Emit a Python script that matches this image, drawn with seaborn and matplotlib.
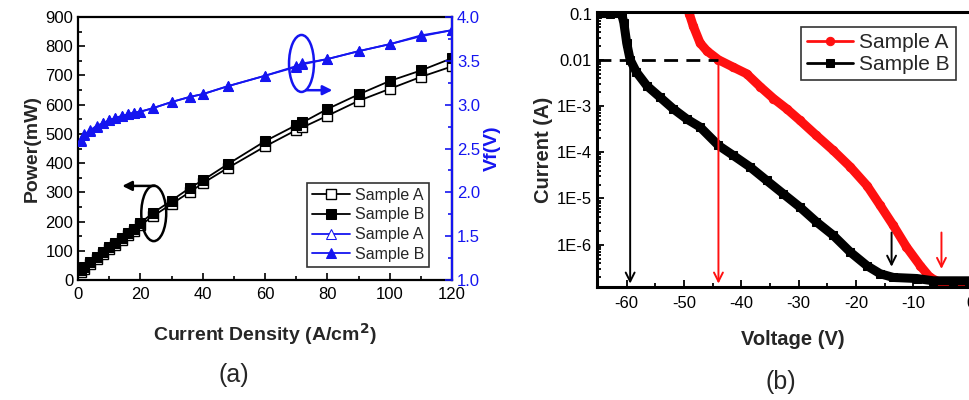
import numpy as np
import matplotlib
matplotlib.use("Agg")
import matplotlib.pyplot as plt
from matplotlib.patches import Ellipse
from matplotlib.ticker import FixedLocator, MultipleLocator, FuncFormatter, LogLocator, NullFormatter
import seaborn as sns

# ---- panel (a): power / forward voltage vs current density ----
j_pts = [1, 2, 4, 6, 8, 10, 12, 14, 16, 18, 20, 24, 30, 36, 40, 48, 60, 70, 72, 80, 90, 100, 110, 120]
power_a = [28, 38, 55, 72, 89, 105, 121, 138, 153, 169, 187, 218, 260, 302, 331, 383, 457, 513, 522, 562, 613, 654, 695, 731]
power_b = [35, 45, 62, 78, 95, 112, 128, 145, 160, 176, 195, 229, 272, 316, 341, 396, 475, 530, 539, 585, 635, 681, 717, 759]
vf_a = [2.59, 2.65, 2.70, 2.75, 2.79, 2.82, 2.85, 2.87, 2.89, 2.91, 2.92, 2.96, 3.03, 3.09, 3.12, 3.21, 3.33, 3.43, 3.46, 3.52, 3.61, 3.69, 3.78, 3.85]
vf_b = [2.60, 2.66, 2.71, 2.76, 2.79, 2.82, 2.85, 2.87, 2.89, 2.91, 2.92, 2.96, 3.03, 3.09, 3.12, 3.21, 3.33, 3.44, 3.47, 3.52, 3.61, 3.69, 3.79, 3.85]

# ---- panel (b): reverse I-V ----
volt_a = [-49.1, -48.4, -47.2, -46.0, -44.0, -41.4, -39.1, -36.7, -34.4, -32.1, -29.8, -26.9, -24.0,
          -21.0, -18.1, -15.8, -13.5, -11.2, -8.8, -7.1, -5.3, -3.0, -0.3, 2.0]
curr_a = [1e-1, 5.4e-2, 2.3e-2, 1.55e-2, 1.0e-2, 6.9e-3, 5.0e-3, 2.6e-3, 1.45e-3, 8.7e-4, 4.9e-4, 2.3e-4, 1.1e-4,
          4.8e-5, 1.9e-5, 7.1e-6, 2.6e-6, 8.9e-7, 3.5e-7, 1.95e-7, 1.5e-7, 1.5e-7, 1.5e-7, 1.5e-7]
volt_b = [-65.2, -63.0, -60.9, -60.5, -60.0, -59.4, -58.3, -56.5, -54.2, -51.9, -49.5, -47.2, -44.0, -41.4,
          -38.5, -35.6, -32.7, -29.8, -26.9, -24.0, -21.0, -18.1, -15.8, -13.5, -9.4, -6.5, -3.0, -0.3, 2.0]
curr_b = [1e-1, 1e-1, 1e-1, 6.3e-2, 2.3e-2, 1.0e-2, 5.4e-3, 2.75e-3, 1.55e-3, 8.7e-4, 5.2e-4, 3.5e-4, 1.4e-4, 8.5e-5,
          4.8e-5, 2.45e-5, 1.26e-5, 6.5e-6, 3.1e-6, 1.6e-6, 6.9e-7, 3.5e-7, 2.35e-7, 1.95e-7, 1.85e-7, 1.65e-7, 1.65e-7, 1.65e-7, 1.65e-7]
ilog_ticks = [1e-6, 1e-5, 1e-4, 1e-3, 1e-2, 1e-1]
ilog_labels = ["1E-6", "1E-5", "1E-4", "1E-3", "0.01", "0.1"]
i_ref = 1e-2
v_ref_b, v_ref_a = -59.4, -44.0
v_knee_b, v_knee_a = -13.8, -5.1

sns.set_theme(style="ticks")
plt.rcParams["font.family"] = ["Liberation Sans", "DejaVu Sans"]
plt.rcParams["xtick.direction"] = "in"
plt.rcParams["ytick.direction"] = "in"

BLUE = "#1515f0"
RED = "#ff1010"

fig = plt.figure(figsize=(9.69, 4.0), dpi=100)

# ================= (a) =================
ax = fig.add_axes([0.0805, 0.30, 0.386, 0.6575])
ax2 = ax.twinx()

sns.lineplot(x=j_pts, y=power_a, ax=ax, color="black", lw=1.3, marker="s", markersize=6.5,
             markerfacecolor="white", markeredgecolor="black", markeredgewidth=1.0, label="Sample A", legend=False)
sns.lineplot(x=j_pts, y=power_b, ax=ax, color="black", lw=1.3, marker="s", markersize=6.5,
             markerfacecolor="black", markeredgecolor="black", label="Sample B", legend=False)
sns.lineplot(x=j_pts, y=vf_a, ax=ax2, color=BLUE, lw=1.3, marker="^", markersize=7,
             markerfacecolor="white", markeredgecolor=BLUE, label="Sample A", legend=False)
sns.lineplot(x=j_pts, y=vf_b, ax=ax2, color=BLUE, lw=1.3, marker="^", markersize=7,
             markerfacecolor=BLUE, markeredgecolor=BLUE, label="Sample B", legend=False)

ax.set_xlim(0, 120)
ax.set_ylim(0, 900)
ax2.set_ylim(1.0, 4.0)
ax.xaxis.set_major_locator(MultipleLocator(20))
ax.xaxis.set_minor_locator(MultipleLocator(10))
ax.yaxis.set_major_locator(MultipleLocator(100))
ax.yaxis.set_minor_locator(MultipleLocator(50))
ax2.yaxis.set_major_locator(MultipleLocator(0.5))
ax2.yaxis.set_minor_locator(MultipleLocator(0.25))
ax2.yaxis.set_major_formatter(FuncFormatter(lambda v, p: f"{v:.1f}"))

for s in ax.spines.values():
    s.set_linewidth(1.6)
    s.set_color("black")
ax2.spines["right"].set_color(BLUE)
ax2.spines["right"].set_linewidth(1.6)
for s in ["left", "top", "bottom"]:
    ax2.spines[s].set_visible(False)
ax.tick_params(which="both", top=False, labelsize=12, width=1.2, colors="black")
ax.tick_params(which="major", length=5)
ax.tick_params(which="minor", length=3)
ax.tick_params(axis="x", pad=5)
ax2.tick_params(which="both", colors=BLUE, labelsize=12, width=1.2)
ax2.tick_params(which="major", length=5)
ax2.tick_params(which="minor", length=3)

ax.set_ylabel("Power(mW)", fontsize=14, fontweight="bold", labelpad=3)
ax2.set_ylabel("Vf(V)", fontsize=14, fontweight="bold", color=BLUE, labelpad=3)
ax.set_xlabel("Current Density (A/cm$^\\mathbf{2}$)", fontsize=14, fontweight="bold", labelpad=14)

# ellipses and arrows marking which axis a curve belongs to
ax.add_patch(Ellipse((24.3, 228), 8, 190, fill=False, ec="black", lw=1.8, zorder=5))
ax.annotate("", xy=(13.3, 322), xytext=(25.5, 322),
            arrowprops=dict(arrowstyle="-|>", color="black", lw=1.8, mutation_scale=14))
ax2.add_patch(Ellipse((71.7, 3.47), 8, 0.65, fill=False, ec=BLUE, lw=1.8, zorder=5))
ax2.annotate("", xy=(82.5, 3.165), xytext=(72.3, 3.165),
             arrowprops=dict(arrowstyle="-|>", color=BLUE, lw=1.8, mutation_scale=14))

h1, l1 = ax.get_legend_handles_labels()
h2, l2 = ax2.get_legend_handles_labels()
leg = ax2.legend(h1 + h2, l1 + l2, loc="lower right", bbox_to_anchor=(0.96, 0.02), fontsize=11.5,
                 frameon=True, fancybox=False, edgecolor="black", handlelength=2.4,
                 borderpad=0.3, labelspacing=0.3, handletextpad=0.3)
leg.get_frame().set_linewidth(1.2)

# ================= (b) =================
bx = fig.add_axes([0.616, 0.282, 0.4035, 0.688])
sns.lineplot(x=volt_a, y=curr_a, ax=bx, color=RED, lw=6.5, marker="o", markersize=6,
             markeredgecolor=RED, label="Sample A", legend=False, sort=False)
sns.lineplot(x=volt_b, y=curr_b, ax=bx, color="black", lw=6.5, marker="s", markersize=5.5,
             markeredgecolor="black", label="Sample B", legend=False, sort=False)
bx.set_yscale("log")
bx.set_xlim(-65.2, 3.0)
bx.set_ylim(1.2e-7, 0.108)
bx.yaxis.set_major_locator(FixedLocator(ilog_ticks))
bx.yaxis.set_major_formatter(FuncFormatter(lambda v, p: ilog_labels[ilog_ticks.index(v)] if v in ilog_ticks else ""))
bx.yaxis.set_minor_locator(LogLocator(base=10, subs=np.arange(2, 10)))
bx.yaxis.set_minor_formatter(NullFormatter())
bx.xaxis.set_major_locator(MultipleLocator(10))
bx.xaxis.set_minor_locator(MultipleLocator(5))
bx.xaxis.set_major_formatter(FuncFormatter(lambda v, p: f"{int(v)}"))
for s in bx.spines.values():
    s.set_linewidth(2.2)
    s.set_color("black")
bx.tick_params(which="both", labelsize=12, width=1.3, colors="black")
bx.tick_params(which="major", length=5)
bx.tick_params(which="minor", length=3)
bx.tick_params(axis="x", pad=6)
bx.set_ylabel("Current (A)", fontsize=14.5, fontweight="bold", labelpad=3)
bx.set_xlabel("Voltage (V)", fontsize=14.5, fontweight="bold", labelpad=14)

# 10 mA reference and breakdown markers
bx.plot([-65.2, v_ref_a], [i_ref, i_ref], color="black", lw=2, ls=(0, (5, 3)), zorder=6)
bx.annotate("", xy=(v_ref_b, 1.25e-7), xytext=(v_ref_b, i_ref),
            arrowprops=dict(arrowstyle="->", color="black", lw=1.4, mutation_scale=16), zorder=7)
bx.annotate("", xy=(v_ref_a, 1.25e-7), xytext=(v_ref_a, i_ref),
            arrowprops=dict(arrowstyle="->", color=RED, lw=1.4, mutation_scale=16), zorder=7)
bx.annotate("", xy=(v_knee_b, 2.9e-7), xytext=(v_knee_b, 2.1e-6),
            arrowprops=dict(arrowstyle="->", color="black", lw=1.4, mutation_scale=16), zorder=7)
bx.annotate("", xy=(v_knee_a, 2.6e-7), xytext=(v_knee_a, 2.1e-6),
            arrowprops=dict(arrowstyle="->", color=RED, lw=1.4, mutation_scale=16), zorder=7)

leg2 = bx.legend(loc="upper right", bbox_to_anchor=(0.945, 0.985), fontsize=15, frameon=True,
                 fancybox=False, edgecolor="black", handlelength=2.2, borderpad=0.3,
                 labelspacing=0.15, handletextpad=0.3)
leg2.get_frame().set_linewidth(1.2)
for ln in leg2.get_lines():
    ln.set_linewidth(2)
    ln.set_markersize(6)

fig.text(0.2415, 0.062, "(a)", fontsize=18, ha="center", va="center")
fig.text(0.806, 0.045, "(b)", fontsize=18, ha="center", va="center")

fig.savefig("out.png", dpi=100)
